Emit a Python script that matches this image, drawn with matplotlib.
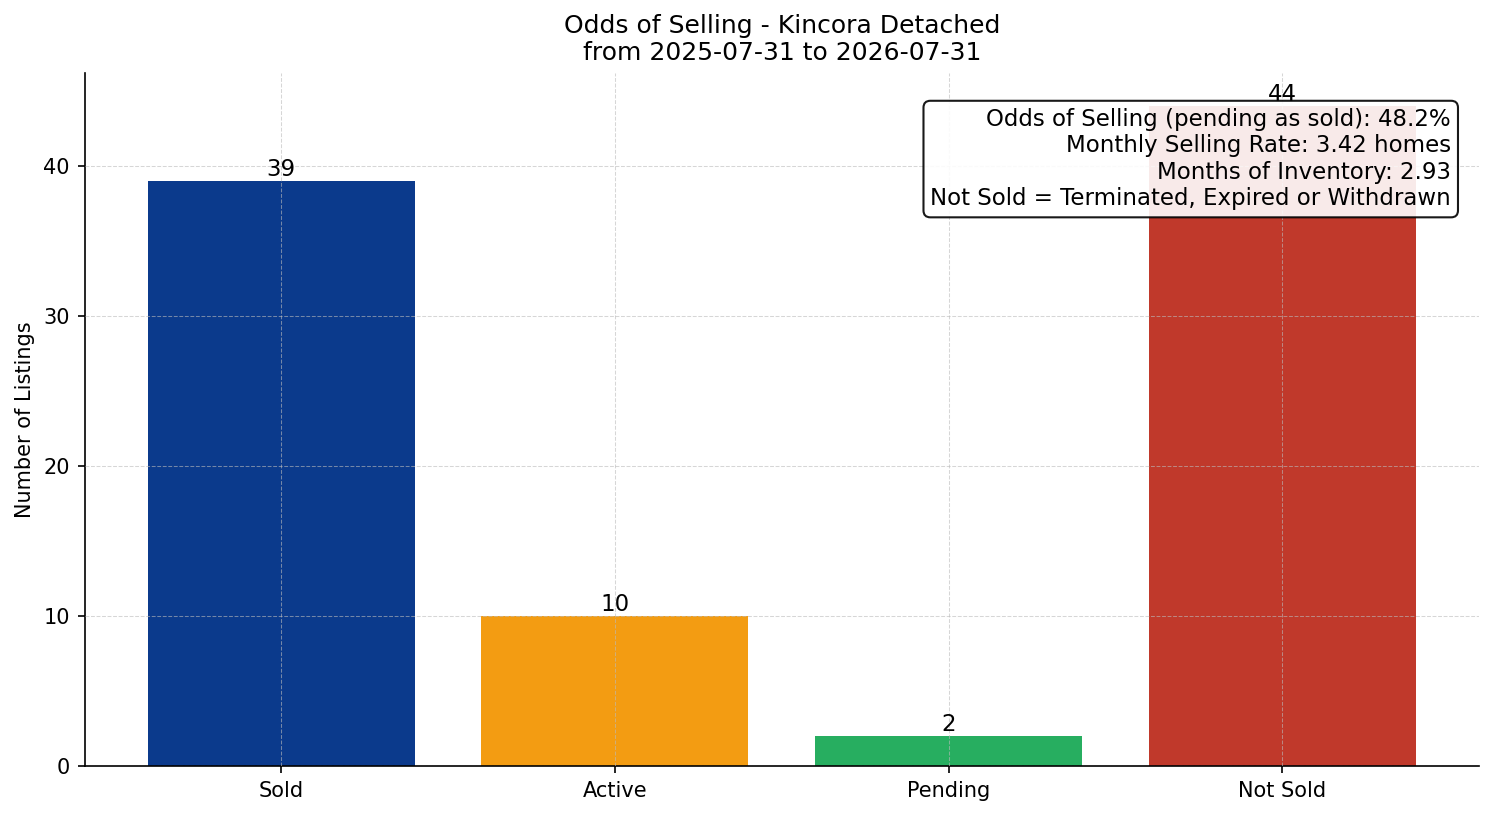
import matplotlib
matplotlib.use("Agg")
import matplotlib.pyplot as plt

categories = ["Sold", "Active", "Pending", "Not Sold"]
counts = [39, 10, 2, 44]
colors = ["#0b3a8c", "#f39c12", "#27ae60", "#c0392b"]
title = "Odds of Selling - Kincora Detached\nfrom 2025-07-31 to 2026-07-31"
info_lines = [
    "Odds of Selling (pending as sold): 48.2%",
    "Monthly Selling Rate: 3.42 homes",
    "Months of Inventory: 2.93",
    "Not Sold = Terminated, Expired or Withdrawn",
]

fig, ax = plt.subplots(figsize=(9.96, 5.44), dpi=150)
fig.subplots_adjust(left=84.5/1494, right=1479/1494, bottom=1-766/816, top=1-73/816)

bars = ax.bar(categories, counts, color=colors, width=0.8)
for b, v in zip(bars, counts):
    ax.text(b.get_x() + b.get_width()/2, v, str(v), ha="center", va="bottom", fontsize=11)

ax.set_ylim(0, max(counts) * 1.05)
ax.set_ylabel("Number of Listings", fontsize=10)
ax.set_title(title, fontsize=12)
ax.grid(True, linestyle="--", color="#bbbbbb", linewidth=0.5, alpha=0.6)
ax.set_axisbelow(False)
ax.spines["top"].set_visible(False)
ax.spines["right"].set_visible(False)
ax.tick_params(labelsize=10)

ax.text(0.98, 0.95, "\n".join(info_lines), transform=ax.transAxes, ha="right", va="top",
        fontsize=11, zorder=5,
        bbox=dict(boxstyle="round", facecolor="white", alpha=0.9, edgecolor="black"))

fig.savefig("out.png", dpi=150)
